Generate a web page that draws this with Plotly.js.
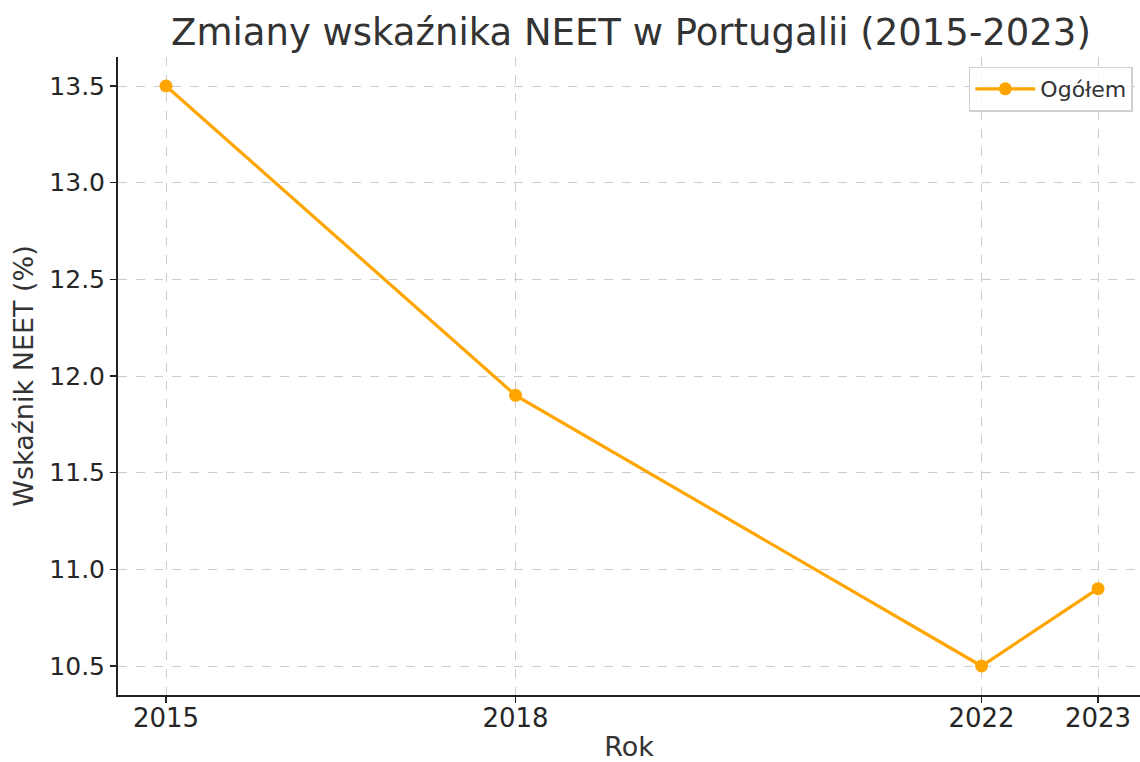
<!DOCTYPE html>
<html>
<head>
<meta charset="utf-8">
<script src="https://cdn.plot.ly/plotly-3.0.1.min.js"></script>
<style>html,body{margin:0;padding:0;background:#fff;}#chart{width:1140px;height:762px;}</style>
</head>
<body>
<div id="chart"></div>
<script>
const years = [2015, 2018, 2022, 2023];
const neetTotal = [13.5, 11.9, 10.5, 10.9];
const seriesName = "Ogółem";
const yTicks = [10.5, 11.0, 11.5, 12.0, 12.5, 13.0, 13.5];
const yTickText = ["10.5", "11.0", "11.5", "12.0", "12.5", "13.0", "13.5"];

const font = "DejaVu Sans, sans-serif";
const trace = {
  x: years, y: neetTotal, name: seriesName, type: "scatter", mode: "lines+markers",
  line: {color: "#FFA500", width: 3.2},
  marker: {color: "#FFA500", size: 13}
};
const layout = {
  width: 1140, height: 762,
  paper_bgcolor: "#ffffff", plot_bgcolor: "#ffffff",
  margin: {l: 118, r: 0, t: 57, b: 67},
  font: {family: font, color: "#333333"},
  title: {text: "Zmiany wskaźnika NEET w Portugalii (2015-2023)", font: {family: font, size: 37, color: "#333333"},
          x: 0.5535, xanchor: "center", y: 0.958, yanchor: "middle"},
  showlegend: true,
  legend: {x: 0.993, y: 0.985, xanchor: "right", yanchor: "top", bgcolor: "rgba(255,255,255,0.8)",
           bordercolor: "#d0d0d0", borderwidth: 1.5, font: {family: font, size: 22, color: "#333333"},
           itemwidth: 60},
  xaxis: {
    range: [2014.588, 2023.36], tickvals: years, ticktext: years.map(String),
    showgrid: true, gridcolor: "#cccccc", griddash: "dash", gridwidth: 1,
    showline: true, linecolor: "#222222", linewidth: 2, mirror: false,
    ticks: "outside", ticklen: 6, tickwidth: 1.5, tickcolor: "#222222",
    ticklabelstandoff: -7,
    tickfont: {family: font, size: 26, color: "#262626"}, zeroline: false,
    title: {text: "Rok", font: {family: font, size: 27, color: "#333333"}, standoff: 21}
  },
  yaxis: {
    range: [10.35, 13.65], tickvals: yTicks, ticktext: yTickText,
    showgrid: true, gridcolor: "#cccccc", griddash: "dash", gridwidth: 1,
    showline: true, linecolor: "#222222", linewidth: 2, mirror: false,
    ticks: "outside", ticklen: 6, tickwidth: 1.5, tickcolor: "#222222",
    tickfont: {family: font, size: 25, color: "#262626"}, zeroline: false,
    title: {text: "Wskaźnik NEET (%)", font: {family: font, size: 27, color: "#333333"}, standoff: 8}
  }
};
Plotly.newPlot("chart", [trace], layout, {displayModeBar: false, staticPlot: true});
</script>
</body>
</html>
